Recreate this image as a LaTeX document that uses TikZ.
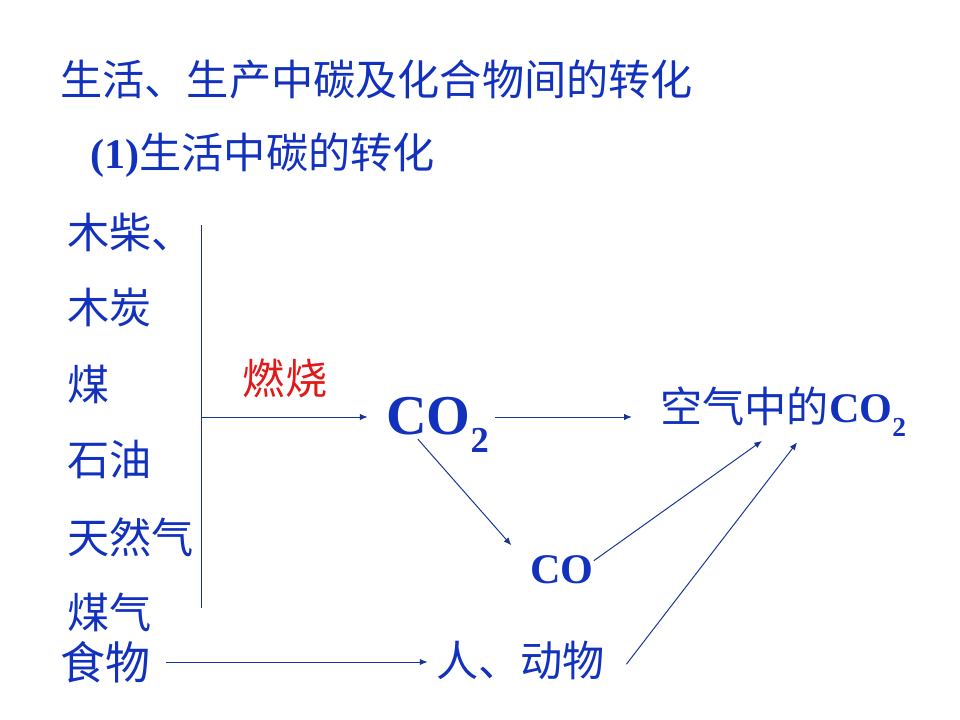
\documentclass[tikz,border=0pt]{standalone}
\usepackage{fontspec}
\setmainfont{Liberation Serif}
\newfontfamily\cjk{Noto Sans CJK SC}
\usetikzlibrary{arrows.meta}
\definecolor{txtblue}{RGB}{18,50,190}
\definecolor{lineblue}{RGB}{22,52,150}
\definecolor{burnred}{RGB}{225,25,25}
\makeatletter
\newcommand{\sub}[1]{\raisebox{-0.32em}{\fontsize{\dimexpr0.65\dimexpr\f@size pt\relax\relax}{1pt}\selectfont #1}}
\makeatother

\begin{document}
\begin{tikzpicture}[x=0.025cm, y=-0.025cm,
    lbl/.style={text=txtblue, font=\cjk\fontsize{30}{36}\selectfont, inner sep=0pt},
    chem/.style={text=txtblue, font=\bfseries\fontsize{30}{36}\selectfont, inner sep=0pt},
    arr/.style={-{Latex[length=5.5pt,width=4.5pt]}, draw=lineblue, line width=0.7pt}]
  \useasboundingbox (0,0) rectangle (960,720);
  \node (title) [lbl, anchor=west] at (60,80) {生活、生产中碳及化合物间的转化};
  \node (sub) [lbl, anchor=west] at (90,155) {{\rmfamily\bfseries (1)}生活中碳的转化};
  \node (wood) [lbl, anchor=west] at (67,232) {木柴、};
  \node (charcoal) [lbl, anchor=west] at (67,308) {木炭};
  \node (coal) [lbl, anchor=west] at (67,384) {煤};
  \node (oil) [lbl, anchor=west] at (67,460) {石油};
  \node (gas) [lbl, anchor=west] at (67,537) {天然气};
  \node (coalgas) [lbl, anchor=west] at (67,612) {煤气};
  \node (food) [lbl, anchor=west, font=\cjk\fontsize{32}{38}\selectfont] at (60,662) {食物};
  \node (burn) [lbl, text=burnred] at (285,378) {燃烧};
  \node (CO2) [chem, anchor=base west, font=\bfseries\fontsize{40}{46}\selectfont] at (386,435) {CO\sub{2}};
  \node (air) [lbl, anchor=base west] at (660,423) {空气中的{\rmfamily\bfseries CO\sub{2}}};
  \node (CO) [chem, anchor=base west] at (530,583) {CO};
  \node (animal) [lbl, anchor=west] at (436,660) {人、动物};
  \coordinate (vtop) at (201,225);
  \coordinate (vbot) at (201,608);
  \coordinate (fork) at (201,417);
  \draw[lineblue, line width=0.7pt] (vtop) -- (vbot);
  \draw[arr, shorten >=13pt] (fork) -- (fork -| CO2.west);
  \draw[arr, shorten <=4pt, shorten >=20pt] (CO2.east |- fork) -- (air.west |- fork);
  \draw[arr, shorten >=5pt] ([xshift=-14pt, yshift=10pt]CO2.south) -- ([xshift=-10pt, yshift=3pt]CO.north west);
  \draw[arr, shorten >=5pt] (CO.15) -- ([xshift=-11pt]air.south);
  \draw[arr, shorten <=11pt, shorten >=6pt] (food.east) -- (food.east -| animal.west);
  \draw[arr, shorten >=5pt] ([xshift=15pt, yshift=-3pt]animal.east) -- ([xshift=13pt]air.south);
\end{tikzpicture}
\end{document}
